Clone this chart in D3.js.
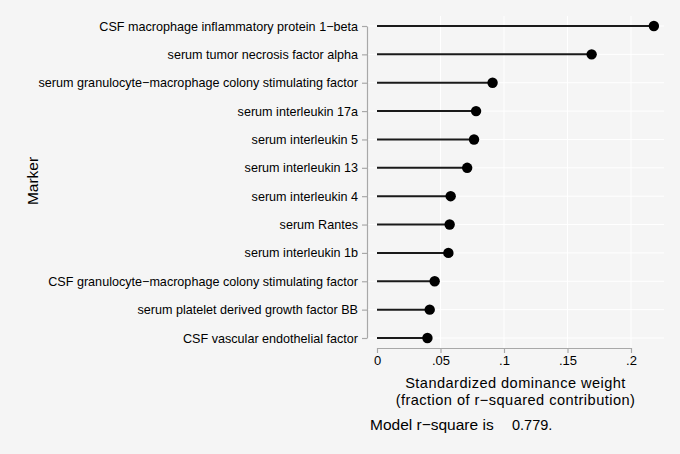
<!DOCTYPE html>
<html>
<head>
<meta charset="utf-8">
<script src="https://cdn.jsdelivr.net/npm/d3@7"></script>
<style>
  body { margin: 0; background: #f5f5f5; }
  svg { display: block; font-family: "Liberation Sans", Arial, sans-serif; }
</style>
</head>
<body>
<div class="graph-container"></div>
<script>
// marker names, top to bottom
var markers = [
  'CSF macrophage inflammatory protein 1\u2212beta',
  'serum tumor necrosis factor alpha',
  'serum granulocyte\u2212macrophage colony stimulating factor',
  'serum interleukin 17a',
  'serum interleukin 5',
  'serum interleukin 13',
  'serum interleukin 4',
  'serum Rantes',
  'serum interleukin 1b',
  'CSF granulocyte\u2212macrophage colony stimulating factor',
  'serum platelet derived growth factor BB',
  'CSF vascular endothelial factor'
];

// standardized dominance weights
var weights = [0.218, 0.169, 0.091, 0.078, 0.0764, 0.071, 0.058, 0.0572, 0.0562, 0.0454, 0.0415, 0.0397];

var xTicks = [0, 0.05, 0.1, 0.15, 0.2];
var xTickLabels = ['0', '.05', '.1', '.15', '.2'];

var xTitleLines = ['Standardized dominance weight', '(fraction of r\u2212squared contribution)'];

var svgWidth = 680;
var svgHeight = 454;

var svg = d3.select('.graph-container').append('svg')
  .attr('width', svgWidth)
  .attr('height', svgHeight);

svg.append('rect')
  .attr('width', svgWidth)
  .attr('height', svgHeight)
  .attr('fill', '#f5f5f5');

// scales
var xScale = d3.scaleLinear()
  .domain([0, 0.2])
  .range([377, 631]);

var yScale = d3.scalePoint()
  .domain(markers)
  .range([26, 338]);

var gridColor = '#ffffff';
var axisColor = '#a8a8a8';

// grid lines
svg.append('g').selectAll('line.vg')
  .data(xTicks.slice(1))
  .enter()
  .append('line')
  .attr('x1', function(d) { return xScale(d); })
  .attr('x2', function(d) { return xScale(d); })
  .attr('y1', 16)
  .attr('y2', 348)
  .attr('stroke', gridColor)
  .attr('stroke-width', 1);

svg.append('g').selectAll('line.hg')
  .data(markers)
  .enter()
  .append('line')
  .attr('x1', 367)
  .attr('x2', 664)
  .attr('y1', function(d) { return yScale(d); })
  .attr('y2', function(d) { return yScale(d); })
  .attr('stroke', gridColor)
  .attr('stroke-width', 1);

// y axis
var yAxis = svg.append('g')
  .attr('transform', 'translate(367,0)')
  .call(d3.axisLeft(yScale).tickSize(5).tickPadding(4).tickSizeOuter(0));
yAxis.select('.domain').attr('stroke', axisColor).attr('stroke-width', 1.2);
yAxis.selectAll('.tick line').attr('stroke', axisColor).attr('stroke-width', 1.2);
yAxis.selectAll('.tick text')
  .attr('fill', '#000')
  .style('font-size', '12.6px')
  .style('font-family', '"Liberation Sans", Arial, sans-serif');

// x axis
var xAxis = svg.append('g')
  .attr('transform', 'translate(0,348)')
  .call(d3.axisBottom(xScale)
    .tickValues(xTicks)
    .tickFormat(function(d, i) { return xTickLabels[i]; })
    .tickSize(5).tickPadding(3).tickSizeOuter(0));
xAxis.select('.domain').attr('stroke', axisColor).attr('stroke-width', 1.2);
xAxis.selectAll('.tick line').attr('stroke', axisColor).attr('stroke-width', 1.2);
xAxis.selectAll('.tick text')
  .attr('fill', '#000')
  .style('font-size', '13px')
  .style('font-family', '"Liberation Sans", Arial, sans-serif');

// lollipop stems
svg.append('g').selectAll('line.stem')
  .data(markers)
  .enter()
  .append('line')
  .attr('x1', xScale(0))
  .attr('x2', function(d, i) { return xScale(weights[i]); })
  .attr('y1', function(d) { return yScale(d); })
  .attr('y2', function(d) { return yScale(d); })
  .attr('stroke', '#1a1a1a')
  .attr('stroke-width', 2);

// dots
svg.append('g').selectAll('circle')
  .data(markers)
  .enter()
  .append('circle')
  .attr('cx', function(d, i) { return xScale(weights[i]); })
  .attr('cy', function(d) { return yScale(d); })
  .attr('r', 5.2)
  .attr('fill', '#000');

// axis titles
svg.append('text')
  .attr('transform', 'translate(38,181) rotate(-90)')
  .style('text-anchor', 'middle')
  .style('font-size', '15.5px')
  .text('Marker');

// two-line x title, slightly letter-spaced to keep the lines tight
svg.append('g').selectAll('text.xt')
  .data(xTitleLines)
  .enter()
  .append('text')
  .attr('x', 515.5)
  .attr('y', function(d, i) { return 388 + i * 16.5; })
  .style('text-anchor', 'middle')
  .style('font-size', '14.6px')
  .style('letter-spacing', '0.45px')
  .text(function(d) { return d; });

svg.append('text')
  .attr('x', 370)
  .attr('y', 430)
  .style('font-size', '15.5px')
  .text('Model r\u2212square is');

svg.append('text')
  .attr('x', 512)
  .attr('y', 430)
  .style('font-size', '14.5px')
  .text('0.779.');
</script>
</body>
</html>
